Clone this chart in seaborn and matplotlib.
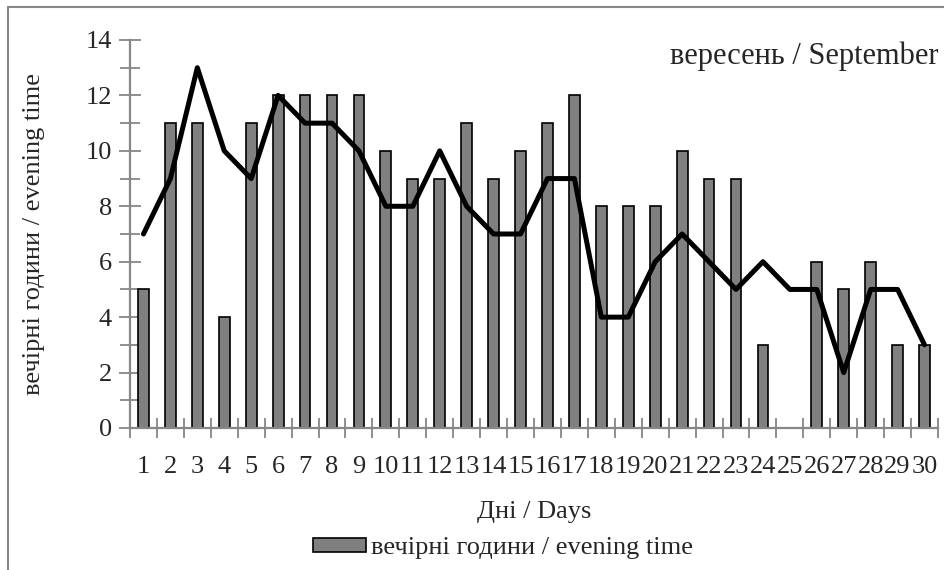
import numpy as np
import matplotlib.pyplot as plt
from matplotlib.lines import Line2D
from matplotlib.ticker import MultipleLocator, FixedLocator
import seaborn as sns

days = [str(d) for d in range(1, 31)]
evening = [5, 11, 11, 4, 11, 12, 12, 12, 12, 10, 9, 9, 11, 9, 10, 11, 12, 8, 8, 8,
           10, 9, 9, 3, 0, 6, 5, 6, 3, 3]
trend = [7, 9, 13, 10, 9, 12, 11, 11, 10, 8, 8, 10, 8, 7, 7, 9, 9, 4, 4, 6,
         7, 6, 5, 6, 5, 5, 2, 5, 5, 3]

sns.set_style("white")
plt.rcParams['font.family'] = ['Liberation Serif', 'DejaVu Serif']
fs = 19
grey = "#878787"

fig = plt.figure(figsize=(9.44, 5.70), dpi=100)
ax = fig.add_axes([130/944, 1-428/570, (938-130)/944, (428-40)/570])

sns.barplot(x=days, y=evening, color="#808080", edgecolor="black", linewidth=1.2,
            width=0.4, saturation=1, ax=ax, label="вечірні години / evening time")
sns.lineplot(x=np.arange(len(days)), y=trend, color="black", linewidth=3.6, ax=ax)

ax.set_xlim(-0.5, len(days) - 0.5)
ax.set_ylim(0, 14)
ax.yaxis.set_major_locator(MultipleLocator(2))
ax.yaxis.set_minor_locator(MultipleLocator(1))
ax.xaxis.set_major_locator(FixedLocator(np.arange(-0.5, len(days), 1)))
ax.xaxis.set_minor_locator(FixedLocator(np.arange(len(days))))
ax.set_xticklabels([], minor=False)
ax.set_xticklabels(days, minor=True)
ax.tick_params(axis="x", which="major", direction="inout", length=15, width=1.3, color=grey)
ax.tick_params(axis="x", which="minor", length=0, labelsize=fs, pad=20)
ax.tick_params(axis="y", which="major", direction="inout", length=16, width=1.3, color=grey,
               labelsize=fs, pad=5)
ax.tick_params(axis="y", which="minor", direction="inout", length=14, width=1.3, color=grey)
ax.tick_params(bottom=True, left=True, which="both")

sns.despine(ax=ax)
for s in ["left", "bottom"]:
    ax.spines[s].set_color(grey)
    ax.spines[s].set_linewidth(1.6)

ax.set_xlabel("Дні / Days", fontsize=fs, labelpad=17)
ax.set_ylabel("вечірні години / evening time", fontsize=fs, labelpad=29)
ax.text(1.0, 0.958, "вересень / September", transform=ax.transAxes, ha="right",
        va="center", fontsize=22)

handles, labels = ax.get_legend_handles_labels()
ax.legend(handles[:1], labels[:1], loc="center", bbox_to_anchor=(503/944, 1-548/570),
          bbox_transform=fig.transFigure, frameon=False, fontsize=fs,
          handlelength=2.0, handleheight=0.45, handletextpad=0.2)

fig.add_artist(Line2D([8/944, 8/944], [0, 1-7/570], color=grey, lw=1.5))
fig.add_artist(Line2D([8/944, 1], [1-7/570, 1-7/570], color=grey, lw=1.5))

fig.savefig("out.png", dpi=100)
